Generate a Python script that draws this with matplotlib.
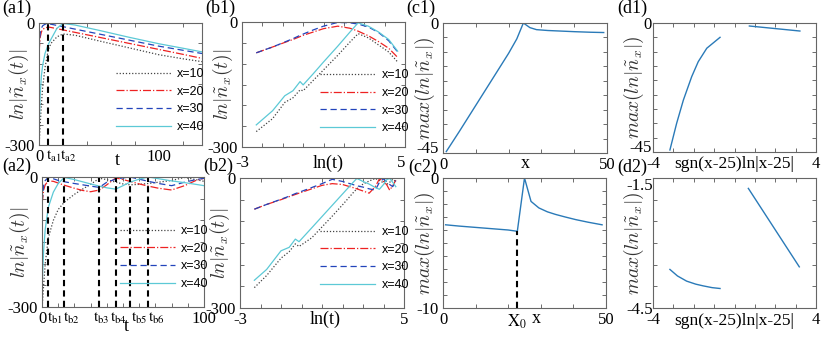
import numpy as np
import matplotlib.pyplot as plt
from matplotlib.ticker import MultipleLocator
from matplotlib.transforms import offset_copy

plt.rcParams['font.family'] = ['Liberation Serif', 'DejaVu Serif']
plt.rcParams['mathtext.fontset'] = 'stix'

# ---- data ----
# (a1) ln|n_x(t)| vs t
a1_t = [0.1, 1, 2, 3, 5, 7.8, 10, 15, 20, 30, 50, 75, 100, 120, 136]
a1_x10 = [-300, -250, -200, -160, -110, -65, -50, -34, -27, -30, -44, -61, -78, -88, -95]
a1_x20 = [-70, -35, -22, -16, -12, -10, -11, -14, -17, -23, -35, -50, -65, -77, -87]
a1_x30 = [-60, -25, -13, -7, -3, -2, -3, -6, -9, -15, -27, -42, -57, -67, -75]
a1_x40 = [-260, -177, -130, -105, -75, -52, -40, -13, -1, -5, -18, -35, -51, -62, -71]
a1_marks = [7.8, 20]
a1_marktops = [-2, -1]
a1_marklabels = [r'$\mathrm{t_{a1}}$', r'$\mathrm{t_{a2}}$']

# (a2)
a2_t = [0.1, 1, 2, 3.9, 7, 10, 13.8, 20, 25, 30, 35.4, 40, 45.5, 50, 54.3, 60, 65.6, 72, 80, 88, 95, 100]
a2_x10 = [-300, -250, -200, -140, -100, -75, -58, -40, -28, -17, -3, -6, -12, -16, -18, -17, -15, -12, -8, -1, -6, -10]
a2_x20 = [-60, -30, -18, -9, -10, -14, -19, -26, -31, -34, -30, -18, -2, -6, -10, -16, -21, -26, -30, -20, -8, -3]
a2_x30 = [-55, -20, -8, -1, -4, -8, -11, -15, -18, -21, -24, -12, -5, -2, 0, -5, -10, -15, -20, -12, -6, -3]
a2_x40 = [-250, -170, -120, -70, -35, -15, -1, -6, -11, -16, -21, -25, -28, -20, -12, -5, 0, -4, -9, -13, -17, -20]
a2_marks = [3.9, 13.8, 35.4, 45.5, 54.3, 65.6]
a2_marklabels = [r'$\mathrm{t_{b1}}$', r'$\mathrm{t_{b2}}$', r'$\mathrm{t_{b3}}$',
                 r'$\mathrm{t_{b4}}$', r'$\mathrm{t_{b5}}$', r'$\mathrm{t_{b6}}$']

# (b1) same quantities vs ln(t)
b1_lnt = [-2.3, -1.5, -0.9, -0.5, -0.15, 0.0, 0.5, 1.0, 1.7, 2.3, 2.7, 3.2, 3.7, 4.2, 4.64]
b1_x10 = [-263, -232, -193, -182, -163, -165, -140, -115, -80, -48, -28, -38, -55, -72, -96]
b1_x20 = [-74, -60, -49, -42, -35, -32, -24, -16, -10, -15, -22, -33, -47, -63, -85]
b1_x30 = [-74, -60, -48, -40, -32, -29, -19, -10, -1, -2, -5, -12, -25, -45, -72]
b1_x40 = [-247, -213, -177, -165, -143, -151, -124, -96, -58, -24, -2, -10, -24, -42, -70]

# (b2)
b2_lnt = [-2.3, -1.7, -1.0, -0.6, -0.3, -0.12, 0.5, 1.0, 1.5, 2.0, 2.5, 2.7, 3.0, 3.3, 3.6, 3.8, 4.0, 4.15, 4.3, 4.45, 4.6]
b2_x10 = [-253, -225, -185, -170, -152, -158, -138, -113, -88, -62, -35, -25, -14, -7, -1, -6, -11, -15, -10, -3, -8]
b2_x20 = [-72, -61, -50, -43, -38, -35, -25, -17, -13, -15, -22, -25, -30, -35, -20, -2, -8, -15, -28, -18, -5]
b2_x30 = [-72, -61, -49, -42, -36, -33, -22, -13, -3, -8, -15, -18, -21, -25, -28, -10, -2, -8, -15, -20, -6]
b2_x40 = [-236, -211, -168, -160, -141, -147, -115, -89, -63, -37, -11, -1, -8, -14, -22, -26, -15, -4, -1, -10, -20]

# (c1), (c2)
c1_x = [1, 5, 10, 15, 20, 22.5, 24.5, 26.5, 28.5, 32, 36, 40, 45, 49]
c1_y = [-44.5, -37.5, -28.5, -19.5, -10.5, -5.5, 0, -1.6, -2.3, -2.6, -2.8, -3.0, -3.2, -3.3]
c2_x = [0.8, 5, 10, 15, 20, 22.8, 25, 27, 29.4, 32, 34.5, 37.5, 40.7, 44.5, 48.8]
c2_y = [-3.6, -3.7, -3.8, -3.9, -4.0, -4.1, 0, -1.8, -2.3, -2.6, -2.8, -3.0, -3.2, -3.4, -3.6]
c2_x0 = 22.8
c2_x0top = -4.1

# (d1), (d2): two branches each
d1_lx = [-3.17, -2.84, -2.51, -2.10, -1.78, -1.36, -0.71]
d1_ly = [-44.3, -35, -26.9, -18.7, -13.5, -8.8, -5.0]
d1_rx = [0.73, 3.21]
d1_ry = [-1.05, -2.8]
d2_lx = [-3.17, -2.8, -2.35, -1.9, -1.53, -1.1, -0.71]
d2_ly = [-3.61, -3.76, -3.88, -3.95, -3.99, -4.03, -4.05]
d2_rx = [0.68, 3.18]
d2_ry = [-1.74, -3.55]

labels = ['x=10', 'x=20', 'x=30', 'x=40']

W, H = 830, 342
fig = plt.figure(figsize=(8.3, 3.42), dpi=100)


def box(l, t, r, b):
    return fig.add_axes([l / W, 1 - b / H, (r - l) / W, (b - t) / H])


def dress(ax, xlim, ylim, xstep, ystep, xt, xl, yt, yl):
    ax.set_xlim(xlim)
    ax.set_ylim(ylim)
    ax.xaxis.set_minor_locator(MultipleLocator(xstep))
    ax.yaxis.set_minor_locator(MultipleLocator(ystep))
    ax.set_xticks(xt, xl)
    ax.set_yticks(yt, yl)
    ax.tick_params(which='both', direction='in', top=True, right=True,
                   colors='#555555', labelcolor='black', labelsize=12)
    ax.tick_params(which='major', length=0, pad=3)
    ax.tick_params(which='minor', length=3, width=0.6)
    for s in ax.spines.values():
        s.set_color('#666666')
        s.set_linewidth(0.8)


def marks(ax, xs, tops, names, shifts):
    for xm, tp, nm, dx in zip(xs, tops, names, shifts):
        ax.plot([xm, xm], [ax.get_ylim()[0], tp], color='black', ls='--', lw=1.5, dashes=(3, 2))
        tr = offset_copy(ax.get_xaxis_transform(), fig=fig, x=dx, y=-4, units='dots')
        ax.text(xm, 0, nm, transform=tr, ha='left', va='top', fontsize=11)


def four(ax, x, ys):
    ax.plot(x, ys[0], color='#444444', ls=(0, (1, 1.5)), lw=0.9)
    ax.plot(x, ys[1], color='#ee2222', ls='-.', lw=0.9)
    ax.plot(x, ys[2], color='#2244bb', ls='--', lw=0.9, dashes=(5, 3))
    ax.plot(x, ys[3], color='#5cc9d6', ls='-', lw=0.9)


def leg(ax, x0, y0):
    ax.legend(labels, loc='upper left', bbox_to_anchor=(x0, y0), frameon=False,
              prop={'family': 'Liberation Sans', 'size': 9}, handlelength=4.4,
              labelspacing=0.45, handletextpad=0.5, borderaxespad=0, borderpad=0)


def ylab(ax, s, xc):
    ax.set_ylabel(s, fontsize=14, math_fontfamily='cm', color='#333333', va='center')
    ax.yaxis.set_label_coords(xc, 0.5)


def xlab(ax, s, xc, yc, size=13):
    ax.set_xlabel(s, fontsize=size, va='center')
    ax.xaxis.set_label_coords(xc, yc)


ylab_t = r'$ln|\tilde{n}_x(t)|$'
ylab_m = r'$max(ln|\tilde{n}_x|)$'

# (a1)
ax = box(39, 23, 202, 145)
four(ax, a1_t, [a1_x10, a1_x20, a1_x30, a1_x40])
dress(ax, (0, 136), (-300, 0), 20, 50, [0, 100], ['0', '100'], [-300, 0], ['-300', '0'])
marks(ax, a1_marks, a1_marktops, a1_marklabels, [-2, -3])
xlab(ax, 't', 0.48, -0.125)
ylab(ax, ylab_t, -0.125)
leg(ax, 0.47, 0.63)

# (a2)
ax = box(42, 177, 204, 307)
four(ax, a2_t, [a2_x10, a2_x20, a2_x30, a2_x40])
dress(ax, (0, 100), (-300, 0), 10, 50, [0, 100], ['0', '100'], [-300, 0], ['-300', '0'])
marks(ax, a2_marks, [-2] * 6, a2_marklabels, [-1, -1, -6, -6, 1, 0])
xlab(ax, 't', 0.52, -0.15)
ylab(ax, ylab_t, -0.135)
leg(ax, 0.48, 0.63)

# (b1)
ax = box(242, 22, 405, 147)
four(ax, b1_lnt, [b1_x10, b1_x20, b1_x30, b1_x40])
dress(ax, (-3, 5), (-300, 0), 1, 50, [-3, 5], ['-3', '5'], [-300, 0], ['-300', '0'])
ax.tick_params(axis='x', which='major', pad=6)
ax.get_xticklabels()[-1].set_ha('right')
xlab(ax, 'ln(t)', 0.53, -0.13)
ylab(ax, ylab_t, -0.12)
leg(ax, 0.48, 0.62)

# (b2)
ax = box(240, 178, 404, 308)
four(ax, b2_lnt, [b2_x10, b2_x20, b2_x30, b2_x40])
dress(ax, (-3, 5), (-300, 0), 1, 50, [-3, 5], ['-3', '5'], [-300, 0], ['-300', '0'])
xlab(ax, 'ln(t)', 0.52, -0.085)
ylab(ax, ylab_t, -0.12)
leg(ax, 0.49, 0.63)

# (c1)
ax = box(443, 23, 607, 153)
ax.plot(c1_x, c1_y, color='#2a7ab8', lw=1)
dress(ax, (0, 50), (-45, 0), 10, 5, [0, 50], ['0', '50'], [-45, 0], ['-45', '0'])
ax.get_yticklabels()[0].set_va('baseline')
xlab(ax, 'x', 0.5, -0.08)
ylab(ax, ylab_m, -0.11)

# (c2)
ax = box(443, 178, 606, 308)
ax.plot(c2_x, c2_y, color='#2a7ab8', lw=1)
ax.plot([c2_x0, c2_x0], [-10, c2_x0top], color='black', ls='--', lw=1.5, dashes=(3, 2))
dress(ax, (0, 50), (-10, 0), 10, 1, [0, c2_x0, 50], ['0', r'$\mathrm{X_0}$', '50'],
      [-10, 0], ['-10', '0'])
xlab(ax, 'x', 0.57, -0.08)
ylab(ax, ylab_m, -0.11)

# (d1)
ax = box(653, 23, 816, 152)
ax.plot(d1_lx, d1_ly, color='#2a7ab8', lw=1)
ax.plot(d1_rx, d1_ry, color='#2a7ab8', lw=1)
dress(ax, (-4, 4), (-45, 0), 1, 5, [-4, 4], ['-4', '4'], [-45, 0], ['-45', '0'])
ax.tick_params(axis='y', which='major', pad=1)
ax.get_yticklabels()[0].set_va('baseline')
xlab(ax, 'sgn(x-25)ln|x-25|', 0.5, -0.09, 12.5)
ylab(ax, ylab_m, -0.115)

# (d2)
ax = box(653, 178, 816, 308)
ax.plot(d2_lx, d2_ly, color='#2a7ab8', lw=1)
ax.plot(d2_rx, d2_ry, color='#2a7ab8', lw=1)
dress(ax, (-4, 4), (-4.5, -1.5), 1, 0.5, [-4, 4], ['-4', '4'], [-4.5, -1.5], ['-4.5', '-1.5'])
ax.tick_params(axis='y', which='major', pad=0)
ax.get_yticklabels()[-1].set_va('top')
xlab(ax, 'sgn(x-25)ln|x-25|', 0.5, -0.1, 12.5)
ylab(ax, ylab_m, -0.115)

# panel tags
for s, x, y in [('(a1)', 2, 0), ('(a2)', 2, 158), ('(b1)', 205, 0), ('(b2)', 203, 158),
                ('(c1)', 406, 0), ('(c2)', 408, 159), ('(d1)', 617, 0), ('(d2)', 617, 159)]:
    fig.text(x / W, 1 - y / H, s, fontsize=13, va='top', ha='left')

fig.savefig('out.png', dpi=100)
